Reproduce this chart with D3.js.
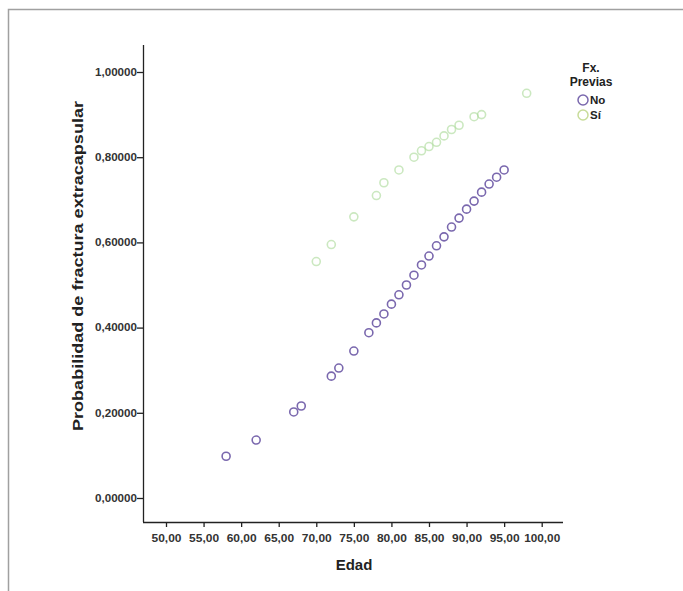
<!DOCTYPE html>
<html><head><meta charset="utf-8">
<script src="https://cdn.jsdelivr.net/npm/d3@7"></script>
<style>body{margin:0;background:#fff;} text{font-family:"Liberation Sans",Arial,sans-serif;}</style>
</head><body>
<svg id="c" width="683" height="591"></svg>
<script>
const xTicks = [50,55,60,65,70,75,80,85,90,95,100];
const yTicks = [0,0.2,0.4,0.6,0.8,1.0];
const noAge = [58,62,67,68,72,73,75,77,78,79,80,81,82,83,84,85,86,87,88,89,90,91,92,93,94,95];
const noProb = [0.098,0.136,0.202,0.216,0.286,0.305,0.345,0.388,0.411,0.432,0.455,0.477,0.500,0.523,0.547,0.568,0.592,0.613,0.636,0.657,0.678,0.697,0.718,0.737,0.753,0.770];
const siAge = [70,72,75,78,79,81,83,84,85,86,87,88,89,91,92,98];
const siProb = [0.555,0.595,0.660,0.710,0.740,0.770,0.800,0.815,0.825,0.835,0.850,0.865,0.875,0.895,0.900,0.950];
const legendTitle = ["Fx.","Previas"];
const groups = ["No","Sí"];

const svg = d3.select("#c");
// frame
svg.append("path").attr("d","M8.5,591V9.5H683").attr("fill","none").attr("stroke","#a0a0a0").attr("stroke-width",1.5);

const x = d3.scaleLinear().domain([50,100]).range([166,541.7]);
const y = d3.scaleLinear().domain([0,1]).range([498,72]);

// axes
const xAxis = d3.axisBottom(x).tickValues(xTicks).tickSize(5).tickSizeOuter(0)
  .tickFormat(d=>d3.format(".2f")(d).replace(".",","));
const gx = svg.append("g").attr("transform","translate(0,522)").call(xAxis);
gx.select(".domain").attr("d","M143,0.5H563").attr("stroke","#222").attr("stroke-width",1.3);
gx.selectAll(".tick line").attr("stroke","#222").attr("stroke-width",1.3);
gx.selectAll(".tick text").attr("font-size",11.5).attr("font-weight","bold").attr("fill","#333").attr("dy","1.05em")
  .attr("textLength",function(){return this.textContent.length*6;}).attr("lengthAdjust","spacingAndGlyphs");

const yAxis = d3.axisLeft(y).tickValues(yTicks).tickSize(6).tickSizeOuter(0)
  .tickFormat(d=>d3.format(".5f")(d).replace(".",","));
const gy = svg.append("g").attr("transform","translate(143,0)").call(yAxis);
gy.select(".domain").attr("d","M0.5,45V522").attr("stroke","#222").attr("stroke-width",1.3);
gy.selectAll(".tick line").attr("stroke","#222").attr("stroke-width",1.3);
gy.selectAll(".tick text").attr("font-size",10.5).attr("font-weight","bold").attr("fill","#333").attr("x",-6)
  .attr("textLength",42).attr("lengthAdjust","spacingAndGlyphs");

// titles
svg.append("text").attr("x",354).attr("y",570).attr("text-anchor","middle")
  .attr("font-size",15).attr("font-weight","bold").attr("fill","#222").text("Edad");
svg.append("text").attr("transform","translate(83,266) rotate(-90)").attr("text-anchor","middle")
  .attr("font-size",15).attr("font-weight","bold").attr("fill","#222")
  .attr("textLength",330).attr("lengthAdjust","spacingAndGlyphs")
  .text("Probabilidad de fractura extracapsular");

// points
const siData = siAge.map((a,i)=>({a,p:siProb[i]}));
const noData = noAge.map((a,i)=>({a,p:noProb[i]}));
svg.append("g").selectAll("circle").data(siData).join("circle")
  .attr("cx",d=>x(d.a)).attr("cy",d=>y(d.p)).attr("r",4)
  .attr("fill","none").attr("stroke","#a8d896").attr("stroke-width",1.6).attr("opacity",0.6);
svg.append("g").selectAll("circle").data(noData).join("circle")
  .attr("cx",d=>x(d.a)).attr("cy",d=>y(d.p)).attr("r",4)
  .attr("fill","none").attr("stroke","#7a68ae").attr("stroke-width",1.6);

// legend
const lg = svg.append("g");
lg.selectAll("text.t").data(legendTitle).join("text").attr("class","t")
  .attr("x",591).attr("y",(d,i)=>72+i*14).attr("text-anchor","middle")
  .attr("font-size",12).attr("font-weight","bold").attr("fill","#222").text(d=>d);
const colors = ["#7a68ae","#c8dc9a"];
groups.forEach((g,i)=>{
  lg.append("circle").attr("cx",583).attr("cy",100+i*15).attr("r",5)
    .attr("fill","none").attr("stroke",colors[i]).attr("stroke-width",1.5);
  lg.append("text").attr("x",590).attr("y",104+i*15).attr("font-size",11.5)
    .attr("font-weight","bold").attr("fill","#222").text(g);
});
</script>
</body></html>
